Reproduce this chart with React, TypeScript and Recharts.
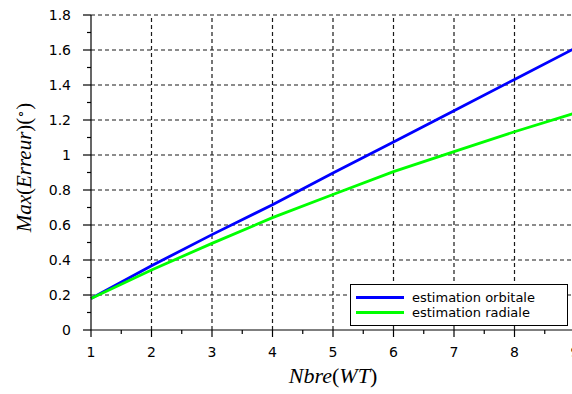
import { LineChart, Line, XAxis, YAxis, ReferenceLine, Legend, Label } from 'recharts'

// number of WT vs. max error (degrees)
const nbreWT = [1, 2, 3, 4, 5, 6, 7, 8, 9]
const orbitale = [0.18, 0.367, 0.545, 0.716, 0.897, 1.074, 1.253, 1.432, 1.61]
const radiale = [0.18, 0.343, 0.495, 0.642, 0.774, 0.905, 1.019, 1.133, 1.24]

const xMajor = [1, 2, 3, 4, 5, 6, 7, 8, 9]
const xMinor = [1.5, 2.5, 3.5, 4.5, 5.5, 6.5, 7.5, 8.5]
const yMajor = [0, 0.2, 0.4, 0.6, 0.8, 1, 1.2, 1.4, 1.6, 1.8]
const yMinor = [0.1, 0.3, 0.5, 0.7, 0.9, 1.1, 1.3, 1.5, 1.7]

const seriesNames = ['estimation orbitale', 'estimation radiale']
const seriesColors = ['#0000ff', '#00ff00']

const TICK_FONT = '"DejaVu Sans", sans-serif'
const LABEL_FONT = '"Liberation Serif", serif'
const GRID = { stroke: '#1a1a1a', strokeDasharray: '4 3', strokeWidth: 1.2 }

const data = nbreWT.map((n, i) => ({ n, orbitale: orbitale[i], radiale: radiale[i] }))
const xTicks = [...xMajor, ...xMinor].sort((a, b) => a - b)
const yTicks = [...yMajor, ...yMinor].sort((a, b) => a - b)

function XTick(props: any) {
  const { x, y, payload } = props
  const major = xMajor.includes(payload.value)
  return (
    <g>
      <line x1={x} y1={y} x2={x} y2={y + (major ? 7 : 4)} stroke="#000" strokeWidth={1.2} />
      {major && (
        <text x={x} y={y + 27} textAnchor="middle" fontSize={14} fontFamily={TICK_FONT} fill="#000">
          {payload.value}
        </text>
      )}
    </g>
  )
}

function YTick(props: any) {
  const { x, y, payload } = props
  const major = yMajor.includes(payload.value)
  return (
    <g>
      <line x1={x - (major ? 8 : 4)} y1={y} x2={x} y2={y} stroke="#000" strokeWidth={1.2} />
      {major && (
        <text x={x - 20} y={y + 5} textAnchor="end" fontSize={14} fontFamily={TICK_FONT} fill="#000">
          {payload.value}
        </text>
      )}
    </g>
  )
}

function XLabel(props: any) {
  const vb = props.viewBox
  return (
    <text x={vb.x + vb.width / 2} y={vb.y + 53} textAnchor="middle" fontSize={22} fontFamily={LABEL_FONT} fill="#000">
      <tspan fontStyle="italic">Nbre</tspan>(<tspan fontStyle="italic">WT</tspan>)
    </text>
  )
}

function YLabel(props: any) {
  const vb = props.viewBox
  const cx = vb.x - 9
  const cy = vb.y + vb.height / 2 - 5
  return (
    <text x={cx} y={cy} transform={`rotate(-90, ${cx}, ${cy})`} textAnchor="middle" fontSize={21} fontFamily={LABEL_FONT} fill="#000">
      <tspan fontStyle="italic">Max</tspan>(<tspan fontStyle="italic">Erreur</tspan>)(
      <tspan fontSize={13} dy={-7}>∘</tspan>
      <tspan dy={7}>)</tspan>
    </text>
  )
}

function LegendBox() {
  return (
    <div style={{ boxSizing: 'border-box', width: 218, height: 42, border: '1px solid #000', background: '#fff', position: 'relative' }}>
      {seriesNames.map((name, i) => (
        <div key={name} style={{ position: 'absolute', left: 5, top: 5 + i * 15, height: 15, display: 'flex', alignItems: 'center' }}>
          <span style={{ display: 'inline-block', width: 48, height: 3, background: seriesColors[i] }} />
          <span style={{ marginLeft: 8, fontSize: 13, lineHeight: '15px', fontFamily: TICK_FONT, color: '#000', whiteSpace: 'nowrap' }}>
            {name}
          </span>
        </div>
      ))}
    </div>
  )
}

export default function App() {
  return (
    <div style={{ position: 'fixed', left: 0, top: 0, width: 572, height: 394, overflow: 'hidden', background: '#fff' }}>
      <LineChart width={590} height={394} data={data} margin={{ top: 15, right: 15, left: 40, bottom: 34 }}>
        {xMajor.slice(1).map((v) => (
          <ReferenceLine key={'x' + v} x={v} {...GRID} />
        ))}
        {yMajor.slice(1).map((v) => (
          <ReferenceLine key={'y' + v} y={v} {...GRID} />
        ))}
        <XAxis
          dataKey="n"
          type="number"
          domain={[1, 9]}
          ticks={xTicks}
          interval={0}
          height={30}
          tickSize={0}
          tickMargin={0}
          tickLine={false}
          tick={<XTick />}
          axisLine={{ stroke: '#000', strokeWidth: 1.2 }}
        >
          <Label content={<XLabel />} />
        </XAxis>
        <YAxis
          type="number"
          domain={[0, 1.8]}
          ticks={yTicks}
          interval={0}
          width={51}
          tickSize={0}
          tickMargin={0}
          tickLine={false}
          tick={<YTick />}
          axisLine={{ stroke: '#000', strokeWidth: 1.2 }}
        >
          <Label content={<YLabel />} />
        </YAxis>
        <Line type="linear" dataKey="orbitale" name={seriesNames[0]} stroke={seriesColors[0]} strokeWidth={2.8} dot={false} isAnimationActive={false} />
        <Line type="linear" dataKey="radiale" name={seriesNames[1]} stroke={seriesColors[1]} strokeWidth={2.8} dot={false} isAnimationActive={false} />
        <Legend
          layout="horizontal"
          verticalAlign="middle"
          align="center"
          content={<LegendBox />}
          wrapperStyle={{ left: 350, top: 284, width: 218, height: 42 }}
        />
      </LineChart>
    </div>
  )
}
